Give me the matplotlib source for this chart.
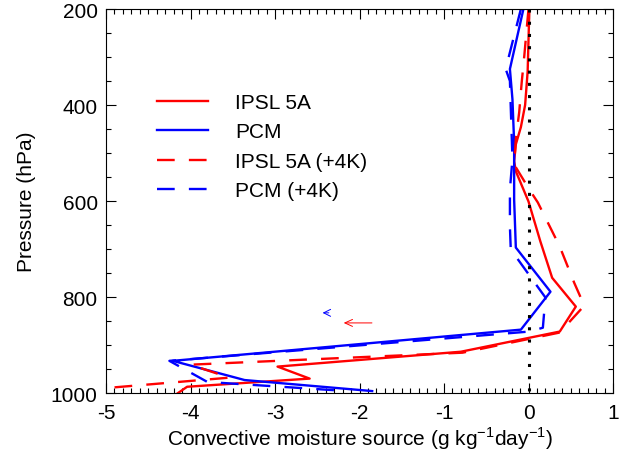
import numpy as np
import matplotlib
matplotlib.use('Agg')
import matplotlib.pyplot as plt
from matplotlib.ticker import MultipleLocator

plt.rcParams['font.family'] = ['Liberation Sans', 'DejaVu Sans']
plt.rcParams['mathtext.fontset'] = 'custom'
plt.rcParams['mathtext.rm'] = 'Liberation Sans'

# Convective moisture source profiles (g/kg/day) vs pressure (hPa)
ipsl_p = [200, 330, 400, 446, 482, 517, 538, 601, 684, 760, 820, 872, 914, 945, 970, 987, 1004]
ipsl_x = [0.01, -0.01, -0.04, -0.09, -0.15, -0.17, -0.15, 0.0, 0.14, 0.28, 0.56, 0.37,
          -0.80, -2.97, -2.59, -4.04, -4.18]

pcm_p = [200, 325, 388, 478, 597, 697, 789, 868, 933, 973, 996]
pcm_x = [-0.06, -0.22, -0.19, -0.17, -0.17, -0.15, 0.26, -0.09, -4.21, -3.36, -1.85]

ipsl4k_p = [200, 298, 352, 415, 471, 524, 576, 603, 695, 770, 818, 874, 916, 941, 968, 993]
ipsl4k_x = [0.0, -0.05, -0.08, -0.11, -0.15, -0.17, 0.01, 0.11, 0.37, 0.54, 0.66, 0.37,
            -0.78, -4.0, -3.54, -5.22]

pcm4k_p = [200, 325, 350, 513, 576, 653, 701, 801, 864, 872, 933, 977, 996]
pcm4k_x = [-0.09, -0.27, -0.22, -0.19, -0.22, -0.22, -0.21, 0.20, 0.17, 0.01, -4.25, -3.80, -2.14]

# small arrows (tail x, head x, pressure)
blue_arrow = [-2.33, -2.47, 833]
red_arrow = [-1.82, -2.22, 854]

fig = plt.figure(figsize=(6.19, 4.64), dpi=100)
ax = fig.add_axes([106 / 619, 1 - 394 / 464, 507 / 619, 384 / 464])

lw = 1.7
dash = (0, (7.5, 6))
ax.plot(ipsl_x, ipsl_p, color='#ff0000', lw=lw, label='IPSL 5A')
ax.plot(pcm_x, pcm_p, color='#0000ff', lw=lw, label='PCM')
ax.plot(ipsl4k_x, ipsl4k_p, color='#ff0000', lw=lw, linestyle=dash, label='IPSL 5A (+4K)')
ax.plot(pcm4k_x, pcm4k_p, color='#0000ff', lw=lw, linestyle=dash, label='PCM (+4K)')

# zero line
ax.plot([0, 0], [200, 1000], color='black', lw=2.2, linestyle=(0, (1, 3)),
        dash_capstyle='butt')

ax.annotate('', xy=(blue_arrow[1], blue_arrow[2]), xytext=(blue_arrow[0], blue_arrow[2]),
            arrowprops=dict(arrowstyle='->,head_length=0.5,head_width=0.25',
                            color='#0000ff', lw=0.7))
ax.annotate('', xy=(red_arrow[1], red_arrow[2]), xytext=(red_arrow[0], red_arrow[2]),
            arrowprops=dict(arrowstyle='->,head_length=0.55,head_width=0.25',
                            color='#ff0000', lw=0.7))

ax.set_xlim(-5, 1)
ax.set_ylim(1000, 200)
ax.xaxis.set_major_locator(MultipleLocator(1))
ax.xaxis.set_minor_locator(MultipleLocator(0.1))
ax.yaxis.set_major_locator(MultipleLocator(200))
ax.yaxis.set_minor_locator(MultipleLocator(50))
ax.tick_params(which='both', direction='in', top=True, right=True, width=0.8)
ax.tick_params(which='major', length=7, labelsize=15)
ax.tick_params(which='minor', length=3.5)
ax.tick_params(axis='x', pad=7)
ax.tick_params(axis='y', pad=6)
ax.xaxis.set_major_formatter(plt.FuncFormatter(lambda v, _: f'{v:.0f}'))
for s in ax.spines.values():
    s.set_linewidth(0.8)

ax.set_ylabel('Pressure (hPa)', fontsize=15, labelpad=11)
ax.set_xlabel('Convective moisture source (g kg$^{\\mathregular{-1}}$day$^{\\mathregular{-1}}$)',
              fontsize=15, labelpad=2)

ax.legend(loc='upper left', bbox_to_anchor=(51 / 507, 300 / 384), frameon=False,
          fontsize=15, handlelength=2.45, handletextpad=1.3, labelspacing=0.5,
          borderpad=0, borderaxespad=0)

fig.savefig('out.png', dpi=100)
